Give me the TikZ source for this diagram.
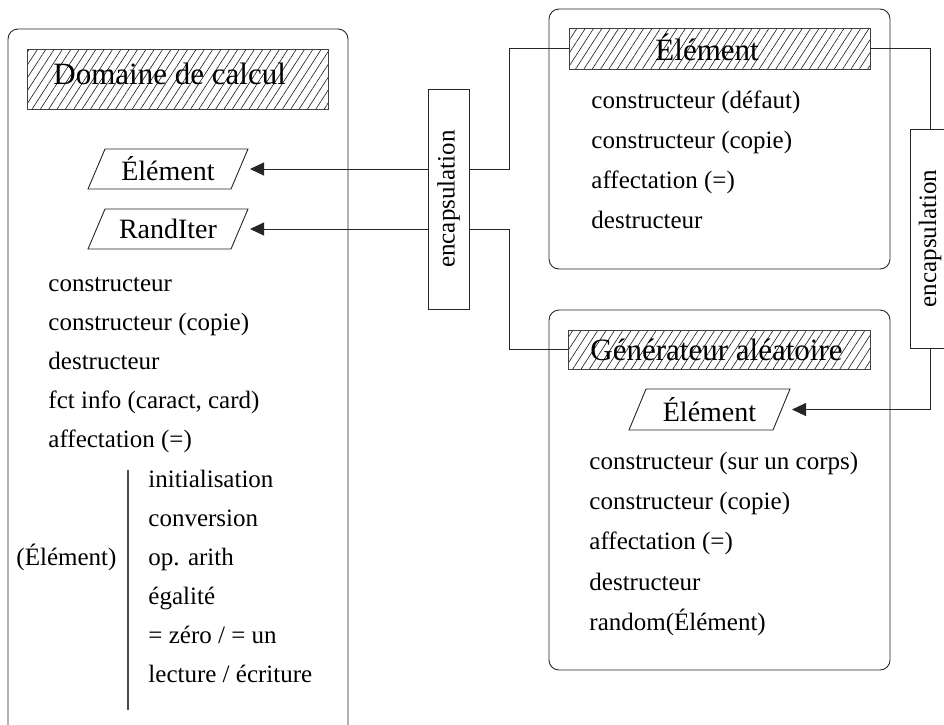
\documentclass[tikz,border=0pt]{standalone}
\usepackage{fontspec}
\setmainfont{Liberation Serif}
\usetikzlibrary{arrows.meta,patterns.meta,calc}

\begin{document}
\begin{tikzpicture}[x=1pt,y=-1pt,
  line width=0.9pt,
  panel/.style={draw=black!85, rounded corners=10pt, inner sep=0pt, outer sep=0pt},
  hatch/.style={draw=black!75, pattern={Lines[angle=57,distance=7pt,line width=0.6pt]}, pattern color=black!90, inner sep=0pt, outer sep=0pt},
  encbox/.style={draw=black!85, fill=white, inner sep=0pt, outer sep=0pt, minimum width=41pt, minimum height=220pt},
  enctext/.style={rotate=90, inner sep=0pt, font=\fontsize{25}{30}\selectfont},
  para/.style={inner sep=0pt, outer sep=0pt, minimum width=160pt, minimum height=40pt, font=\fontsize{28}{32}\selectfont},
  item/.style={anchor=base west, inner sep=0pt, font=\fontsize{25}{30}\selectfont},
  ttl/.style={anchor=base west, inner sep=0pt, font=\fontsize{31}{36}\selectfont},
  conn/.style={draw=black!85, line width=0.9pt},
  arr/.style={conn, -{Triangle[length=14pt,width=13pt]}, shorten >=2pt}
]
\useasboundingbox (0,0) rectangle (944,724);
\clip (0,0) rectangle (944,724);

% panels
\node[panel, anchor=north west, minimum width=340pt, minimum height=760pt] (dom) at (8,29) {};
\node[panel, anchor=north west, minimum width=341pt, minimum height=260pt] (elp) at (549,9) {};
\node[panel, anchor=north west, minimum width=341pt, minimum height=360pt] (genp) at (549,310) {};

% hatched titles
\node[hatch, anchor=north west, minimum width=301pt, minimum height=60pt] (t1) at (27,49) {};
\node[hatch, anchor=north west, minimum width=301pt, minimum height=41pt] (t2) at (569,28) {};
\node[hatch, anchor=north west, minimum width=302pt, minimum height=39pt] (t3) at (568,330) {};
\node[ttl] (t1txt) at (53,84) {Domaine de calcul};
\node[ttl] (t2txt) at (655,60) {Élément};
\node[ttl] (t3txt) at (590,360) {Générateur aléatoire};

% parallelograms
\node[para] (el1) at (168,169) {Élément};
\node[para] (el2) at (168,229) {RandIter};
\node[para, minimum width=161pt, minimum height=41pt] (el3) at (709.5,409.5) {Élément};
\foreach \n in {el1,el2,el3}
  \draw[conn] (\n.south west) -- ($(\n.north west)+(17,0)$) -- (\n.north east) -- ($(\n.south east)+(-17,0)$) -- cycle;

% encapsulation boxes
\node[encbox] (enc1) at (448.5,199) {};
\node[enctext] (enc1txt) at (enc1.center) {encapsulation};
\node[encbox, minimum height=219pt, minimum width=40pt] (enc2) at (930,238.5) {};
\node[enctext] (enc2txt) at (enc2.center) {encapsulation};

% connectors
\coordinate (j1) at (509,169);
\coordinate (j2) at (509,229);
\draw[conn] (enc1.east |- j1) -- (j1) |- (t2.west);
\draw[conn] (enc1.east |- j2) -- (j2) |- (t3.west);
\draw[arr] (enc1.west |- j1) -- (el1.east);
\draw[arr] (enc1.west |- j2) -- (el2.east);
\draw[conn] (t2.east) -| (enc2.north);
\draw[arr] (enc2.south) |- (el3.east);

% left panel items
\node[item] (d1) at (48,291) {constructeur};
\node[item] (d2) at (48,330) {constructeur (copie)};
\node[item] (d3) at (48,369) {destructeur};
\node[item] (d4) at (48,408) {fct info (caract, card)};
\node[item] (d5) at (48,447) {affectation (=)};
\node[item] (e0) at (16,565) {(Élément)};
\draw[draw=black!70, line width=1.2pt] (128,470) -- (128,710);
\node[item] (e1) at (148,487) {initialisation};
\node[item] (e2) at (148,526) {conversion};
\node[item] (e3) at (148,565) {op. arith};
\node[item] (e4) at (148,604) {égalité};
\node[item] (e5) at (148,643) {= zéro / = un};
\node[item] (e6) at (148,682) {lecture / écriture};

% element panel items
\node[item] (f1) at (591,108) {constructeur (défaut)};
\node[item] (f2) at (591,148) {constructeur (copie)};
\node[item] (f3) at (591,188) {affectation (=)};
\node[item] (f4) at (591,228) {destructeur};

% generator panel items
\node[item] (g1) at (589,469) {constructeur (sur un corps)};
\node[item] (g2) at (589,509) {constructeur (copie)};
\node[item] (g3) at (589,549) {affectation (=)};
\node[item] (g4) at (589,590) {destructeur};
\node[item] (g5) at (589,630) {random(Élément)};
\end{tikzpicture}
\end{document}
